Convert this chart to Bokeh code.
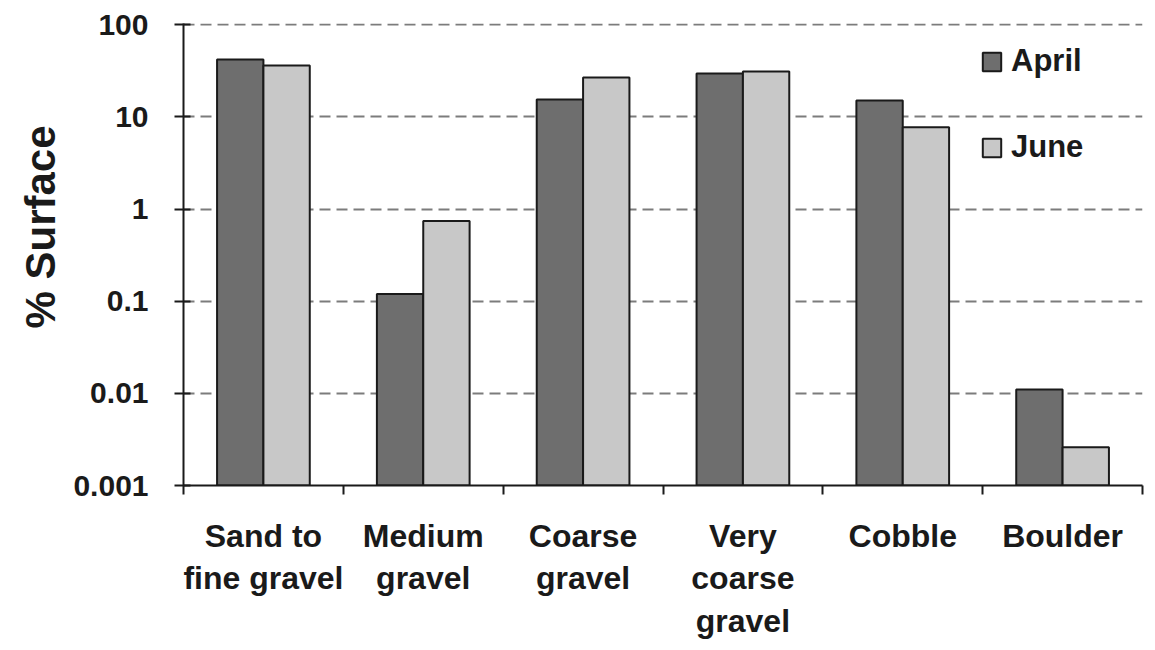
import numpy as np
from bokeh.plotting import figure
from bokeh.models import (Range1d, FixedTicker, CustomJSTickFormatter, Legend, LegendItem, Title)
from bokeh.embed import file_html
from bokeh.resources import INLINE

categories = ["Sand to\nfine gravel", "Medium\ngravel", "Coarse\ngravel",
              "Very\ncoarse\ngravel", "Cobble", "Boulder"]
april = [42, 0.12, 15.4, 29.5, 15, 0.011]
june = [36, 0.74, 26.7, 31, 7.7, 0.0026]
y_ticks = [0.001, 0.01, 0.1, 1, 10, 100]
series_names = ["April", "June"]
y_title = "% Surface"

FONT = "Liberation Sans"
BASE = 0.001

p = figure(frame_width=959, frame_height=462, y_axis_type="log",
           x_range=Range1d(0, len(categories)), y_range=Range1d(BASE, 103),
           output_backend="svg", toolbar_location=None,
           min_border_left=183, min_border_right=4, min_border_top=23, min_border_bottom=150)
p.outline_line_color = None
p.background_fill_color = "white"

idx = np.arange(len(categories)) + 0.5
w = 0.29
r1 = p.vbar(x=idx - w / 2, top=april, bottom=BASE, width=w,
            fill_color="#6e6e6e", line_color="#1a1a1a", line_width=2)
r2 = p.vbar(x=idx + w / 2, top=june, bottom=BASE, width=w,
            fill_color="#c8c8c8", line_color="#1a1a1a", line_width=2)

# x axis
xa = p.xaxis[0]
xa.ticker = FixedTicker(ticks=list(idx), minor_ticks=list(range(len(categories) + 1)))
xa.formatter = CustomJSTickFormatter(args=dict(labels=categories),
                                     code="return labels[Math.floor(tick)];")
xa.major_tick_in = 0
xa.major_tick_out = 0
xa.minor_tick_in = 0
xa.minor_tick_out = 9
xa.minor_tick_line_color = "#1a1a1a"
xa.minor_tick_line_width = 2
xa.axis_line_color = "#1a1a1a"
xa.axis_line_width = 2
xa.major_label_text_font = FONT
xa.major_label_text_font_style = "bold"
xa.major_label_text_font_size = "32px"
xa.major_label_text_color = "#1a1a1a"
xa.major_label_text_line_height = 1.19
xa.major_label_standoff = 23

# y axis
ya = p.yaxis[0]
ya.ticker = FixedTicker(ticks=y_ticks, minor_ticks=[])
ya.formatter = CustomJSTickFormatter(code="return Number(tick.toPrecision(6)).toString();")
ya.major_tick_in = 7
ya.major_tick_out = 9
ya.major_tick_line_color = "#1a1a1a"
ya.major_tick_line_width = 2
ya.minor_tick_line_color = None
ya.axis_line_color = "#1a1a1a"
ya.axis_line_width = 2
ya.major_label_text_font = FONT
ya.major_label_text_font_style = "bold"
ya.major_label_text_font_size = "30px"
ya.major_label_text_color = "#1a1a1a"
ya.major_label_standoff = 26

# y title in the left panel, shifted up from the frame centre as in the reference
ytitle = Title(text=y_title, align="left", offset=157, standoff=14,
               text_font=FONT, text_font_style="bold", text_font_size="42px",
               text_color="#1a1a1a")
p.add_layout(ytitle, "left")

# grid
p.xgrid.grid_line_color = None
p.ygrid.ticker = FixedTicker(ticks=y_ticks[1:])
p.ygrid.grid_line_color = "#7c7c7c"
p.ygrid.grid_line_width = 2
p.ygrid.grid_line_dash = "11 6"

legend = Legend(items=[LegendItem(label=series_names[0], renderers=[r1]),
                       LegendItem(label=series_names[1], renderers=[r2])],
                location=(797, 320), orientation="vertical")
legend.glyph_width = 23
legend.glyph_height = 23
legend.label_text_font = FONT
legend.label_text_font_style = "bold"
legend.label_text_font_size = "31px"
legend.label_text_color = "#1a1a1a"
legend.label_standoff = 8
legend.label_height = 30
legend.spacing = 50
legend.padding = 0
legend.margin = 0
legend.border_line_color = None
legend.background_fill_alpha = 0
p.add_layout(legend)

open("out.html", "w").write(file_html(p, INLINE))
